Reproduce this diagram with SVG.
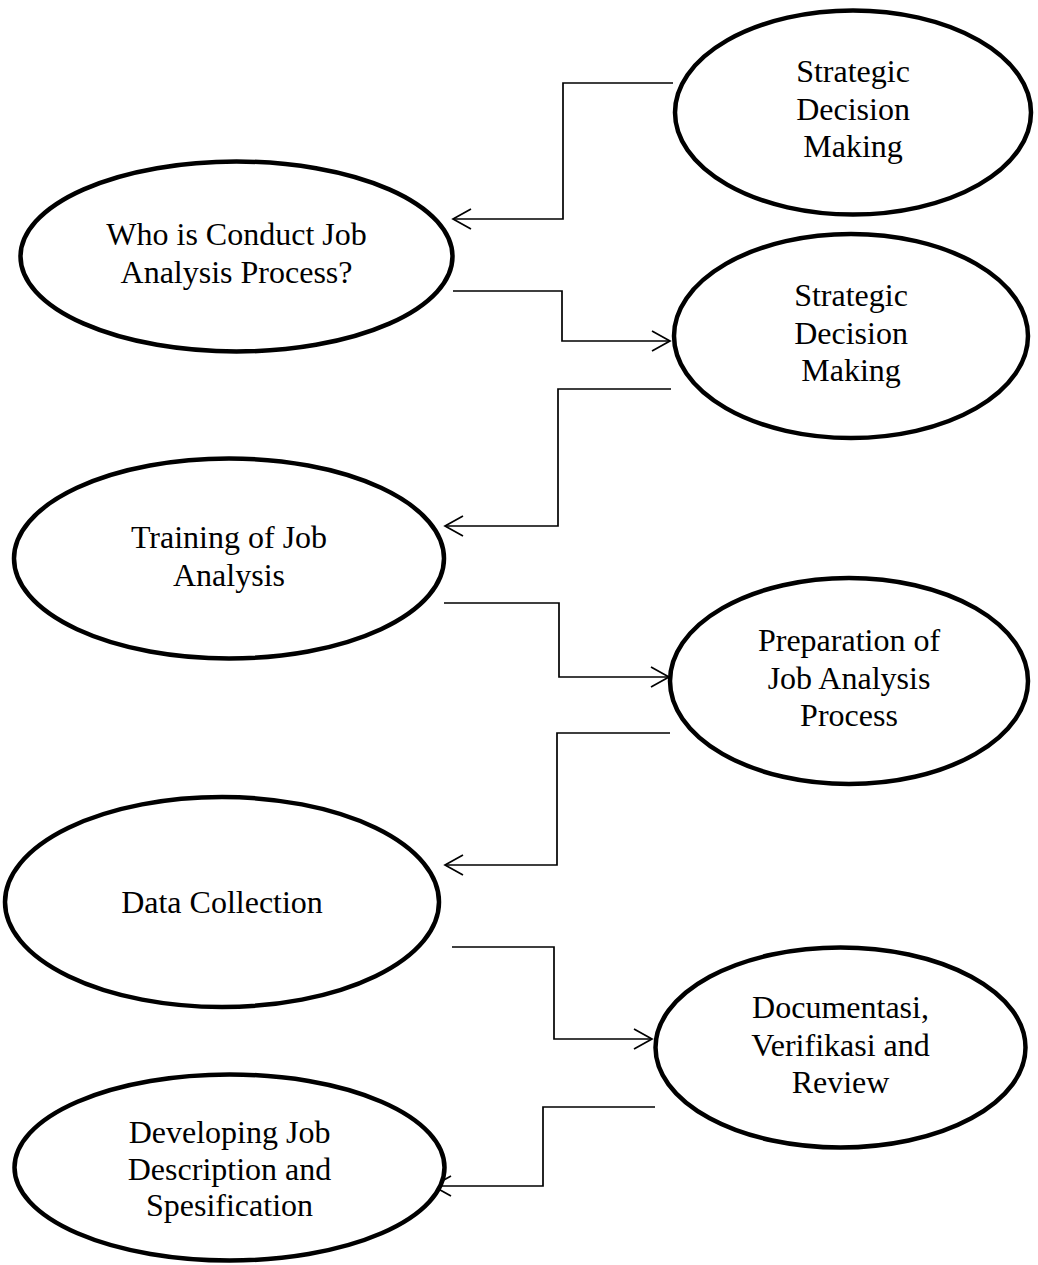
<svg xmlns="http://www.w3.org/2000/svg" width="1038" height="1265" viewBox="0 0 1038 1265">
  <style>
    .node ellipse { fill: #ffffff; stroke: #000000; stroke-width: 4.5; }
    .node text { font-family: "Liberation Serif", "Times New Roman", serif; font-size: 32px; fill: #000000; text-anchor: middle; }
    .link { fill: none; stroke: #000000; stroke-width: 1.7; marker-end: url(#open-arrow); }
  </style>
  <defs>
    <marker id="open-arrow" markerUnits="userSpaceOnUse" markerWidth="40" markerHeight="40" refX="0" refY="0" viewBox="-20 -20 40 40" orient="auto" overflow="visible">
      <path d="M-18,-10 L0,0 L-18,10" fill="none" stroke="#000000" stroke-width="1.7"/>
    </marker>
  </defs>
  <rect width="1038" height="1265" fill="#ffffff"/>

  <g id="connectors">
    <path class="link" d="M673,83 H563 V219 H453"/>
    <path class="link" d="M453,291 H562 V341 H670"/>
    <path class="link" d="M671,389 H558 V526 H445"/>
    <path class="link" d="M444,603 H559 V677 H669"/>
    <path class="link" d="M670,733 H557 V865 H445"/>
    <path class="link" d="M452,947 H554 V1039 H652"/>
    <path class="link" d="M655,1107 H543 V1186 H433"/>
  </g>

  <g id="strategic-decision-1" class="node">
    <ellipse cx="853" cy="112.5" rx="178" ry="102"/>
    <text x="853" y="82">Strategic</text>
    <text x="853" y="119.5">Decision</text>
    <text x="853" y="157">Making</text>
  </g>

  <g id="who-conducts" class="node">
    <ellipse cx="236.5" cy="256.5" rx="216" ry="95"/>
    <text x="236.5" y="245">Who is Conduct Job</text>
    <text x="236.5" y="283">Analysis Process?</text>
  </g>

  <g id="strategic-decision-2" class="node">
    <ellipse cx="851" cy="336" rx="177" ry="102"/>
    <text x="851" y="306">Strategic</text>
    <text x="851" y="343.5">Decision</text>
    <text x="851" y="381">Making</text>
  </g>

  <g id="training" class="node">
    <ellipse cx="229" cy="558.5" rx="215" ry="100"/>
    <text x="229" y="548">Training of Job</text>
    <text x="229" y="586">Analysis</text>
  </g>

  <g id="preparation" class="node">
    <ellipse cx="849" cy="681" rx="179" ry="103"/>
    <text x="849" y="651">Preparation of</text>
    <text x="849" y="688.5">Job Analysis</text>
    <text x="849" y="726">Process</text>
  </g>

  <g id="data-collection" class="node">
    <ellipse cx="222" cy="902" rx="217" ry="105"/>
    <text x="222" y="913">Data Collection</text>
  </g>

  <g id="documentation" class="node">
    <ellipse cx="840.5" cy="1047.5" rx="185" ry="100"/>
    <text x="840.5" y="1018">Documentasi,</text>
    <text x="840.5" y="1055.5">Verifikasi and</text>
    <text x="840.5" y="1093">Review</text>
  </g>

  <g id="job-description" class="node">
    <ellipse cx="229.5" cy="1167.5" rx="215" ry="93"/>
    <text x="229.5" y="1143">Developing Job</text>
    <text x="229.5" y="1180">Description and</text>
    <text x="229.5" y="1216">Spesification</text>
  </g>
</svg>
